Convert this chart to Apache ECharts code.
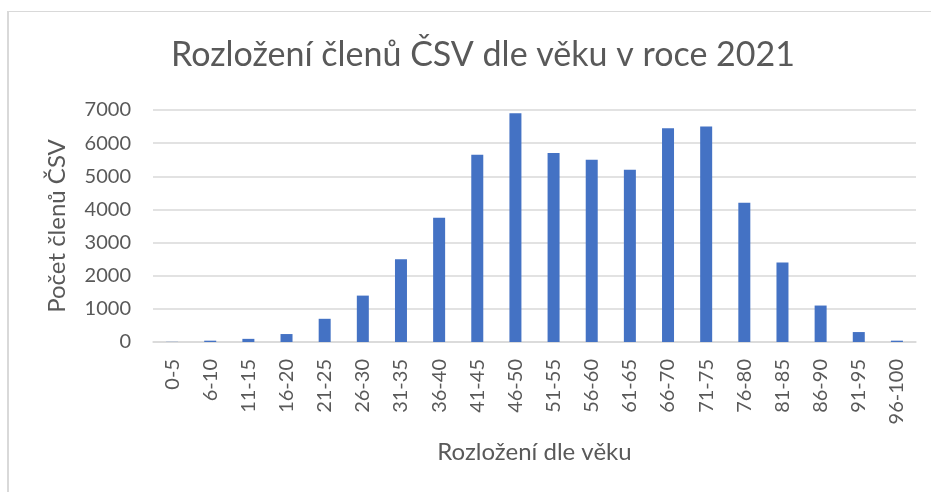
<!DOCTYPE html>
<html>
<head>
<meta charset="utf-8">
<script src="https://cdn.jsdelivr.net/npm/echarts@6/dist/echarts.min.js"></script>
<style>
  html, body { margin: 0; padding: 0; background: #fff; }
  #frame { position: absolute; left: 7px; top: 11px; width: 940px; height: 500px;
           border-left: 2px solid #d9d9d9; border-top: 1px solid #d9d9d9; }
  #chart { width: 931px; height: 492px; position: absolute; left: 0; top: 0; }
</style>
</head>
<body>
<div id="frame"></div>
<div id="chart"></div>
<script>
const categories = ['0-5','6-10','11-15','16-20','21-25','26-30','31-35','36-40','41-45','46-50',
  '51-55','56-60','61-65','66-70','71-75','76-80','81-85','86-90','91-95','96-100'];
const members = [5, 40, 95, 240, 700, 1400, 2500, 3750, 5650, 6900,
  5700, 5500, 5200, 6450, 6500, 4200, 2400, 1100, 300, 40];
const yTicks = [0, 1000, 2000, 3000, 4000, 5000, 6000, 7000];

const txt = '#595959';
const font = 'Lato, "Open Sans", sans-serif';

const myChart = echarts.init(document.getElementById('chart'));
myChart.setOption({
  animation: false,
  title: {
    text: 'Rozložení členů ČSV dle věku v roce 2021',
    left: 166,
    top: 33,
    textStyle: { color: txt, fontSize: 34, fontWeight: 'normal', fontFamily: font }
  },
  grid: { left: 153, right: 15, top: 110, bottom: 150 },
  xAxis: {
    type: 'category',
    data: categories,
    name: 'Rozložení dle věku',
    nameLocation: 'middle',
    nameGap: 98,
    nameTextStyle: { color: txt, fontSize: 24, fontFamily: font },
    axisLine: { lineStyle: { color: '#d9d9d9', width: 1.5 } },
    axisTick: { show: false },
    axisLabel: { rotate: 90, color: txt, fontSize: 20, fontFamily: font, margin: 17, interval: 0 }
  },
  yAxis: {
    type: 'value',
    min: yTicks[0],
    max: yTicks[yTicks.length - 1],
    interval: 1000,
    name: 'Počet členů ČSV',
    nameLocation: 'middle',
    nameGap: 84,
    nameTextStyle: { color: txt, fontSize: 24, fontFamily: font },
    axisLine: { show: false },
    axisTick: { show: false },
    axisLabel: { color: txt, fontSize: 20, fontFamily: font, margin: 22, formatter: v => String(v) },
    splitLine: { lineStyle: { color: '#d9d9d9', width: 1.5 } }
  },
  series: [{
    type: 'bar',
    data: members,
    barWidth: 12,
    itemStyle: { color: '#4472c4' }
  }]
});
</script>
</body>
</html>
